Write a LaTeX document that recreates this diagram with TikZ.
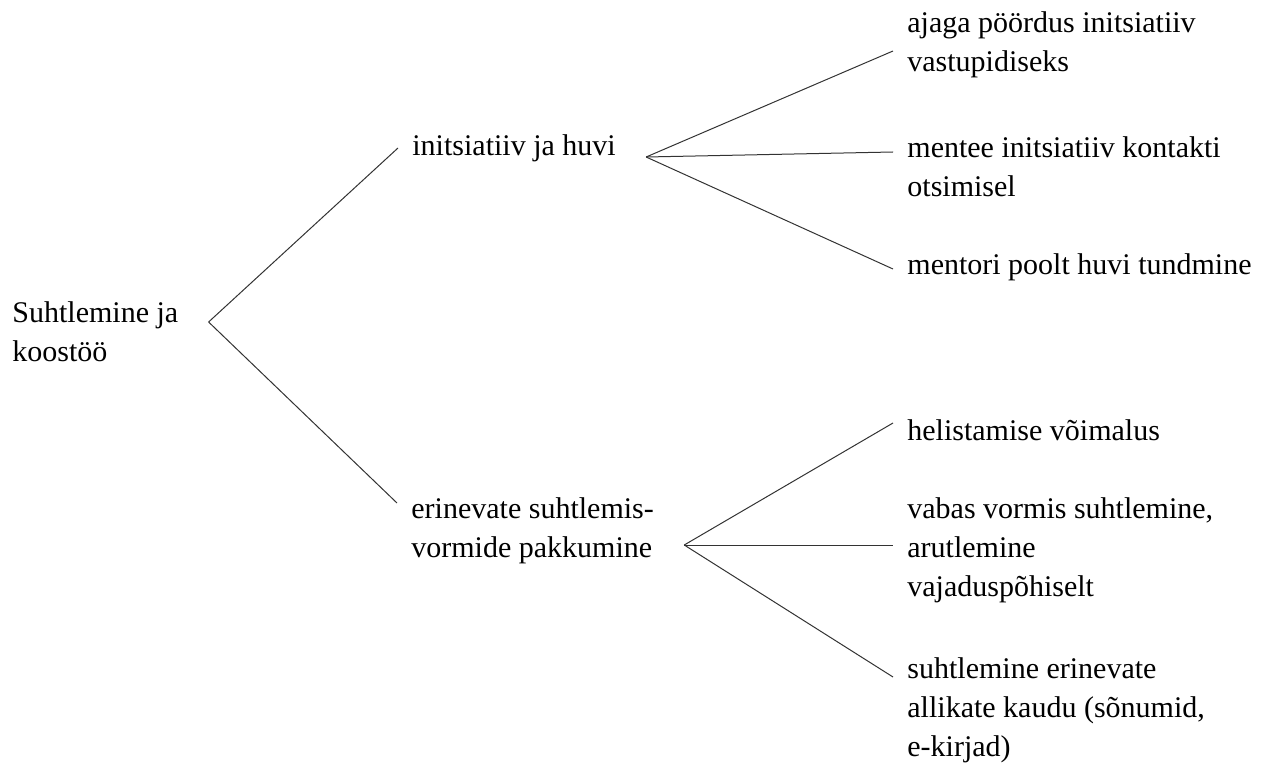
\documentclass[tikz,border=0pt]{standalone}
\usepackage{fontspec}
\setmainfont{Liberation Serif}

\begin{document}
\begin{tikzpicture}
	[x=0.5pt, y=-0.5pt,
		topic/.style		={anchor=west
									, align=left
									, inner xsep=7pt
									, inner ysep=0pt
									, font=\fontsize{15}{19.5}\selectfont
									},
		line/.style		 	={draw
									, line width=0.5pt
									, black!80
									}
	]
\useasboundingbox (0,0) rectangle (1268,770);

	% level 1
	\node [topic] (root)						at (-2,332)	{Suhtlemine ja\\koostöö};
	% level 2
	\node [topic] (initiative)				at (398,148)	{initsiatiiv ja huvi};
	\node [topic] (forms)						at (397,531)	{erinevate suhtlemis-\\vormide pakkumine};
	% level 3, upper
	\node [topic] (reversal)					at (893,45)		{ajaga pöördus initsiatiiv\\vastupidiseks};
	\node [topic] (mentee initiative)	at (893,167)	{mentee initsiatiiv kontakti\\otsimisel};
	\node [topic] (mentor interest)		at (893,267)	{mentori poolt huvi tundmine};
	% level 3, lower
	\node [topic] (calling)					at (893,430)	{helistamise võimalus};
	\node [topic] (free form)				at (893,550)	{vabas vormis suhtlemine,\\arutlemine\\vajaduspõhiselt};
	\node [topic] (channels)					at (893,710)	{suhtlemine erinevate\\allikate kaudu (sõnumid,\\e-kirjad)};

	% forks
	\coordinate (root fork)					at ([xshift=8pt,yshift=5pt]root.east);
	\coordinate (initiative fork)			at ([xshift=8pt,yshift=-4.5pt]initiative.east);
	\coordinate (forms fork)				at ([xshift=8pt,yshift=-7pt]forms.east);

\begin{scope}[every path/.style=line]
	\path					(root fork)				-- (initiative.west);
	\path					(root fork)				-- ([yshift=14pt]forms.west);
	\path					(initiative fork)		-- ([yshift=-3pt]reversal.west);
	\path					(initiative fork)		-- ([yshift=7.5pt]mentee initiative.west);
	\path					(initiative fork)		-- ([yshift=-1pt]mentor interest.west);
	\path					(forms fork)			-- ([yshift=3.5pt]calling.west);
	\path					(forms fork)			-- ([yshift=2.5pt]free form.west);
	\path					(forms fork)			-- ([yshift=16.5pt]channels.west);
\end{scope}
\end{tikzpicture}
\end{document}
